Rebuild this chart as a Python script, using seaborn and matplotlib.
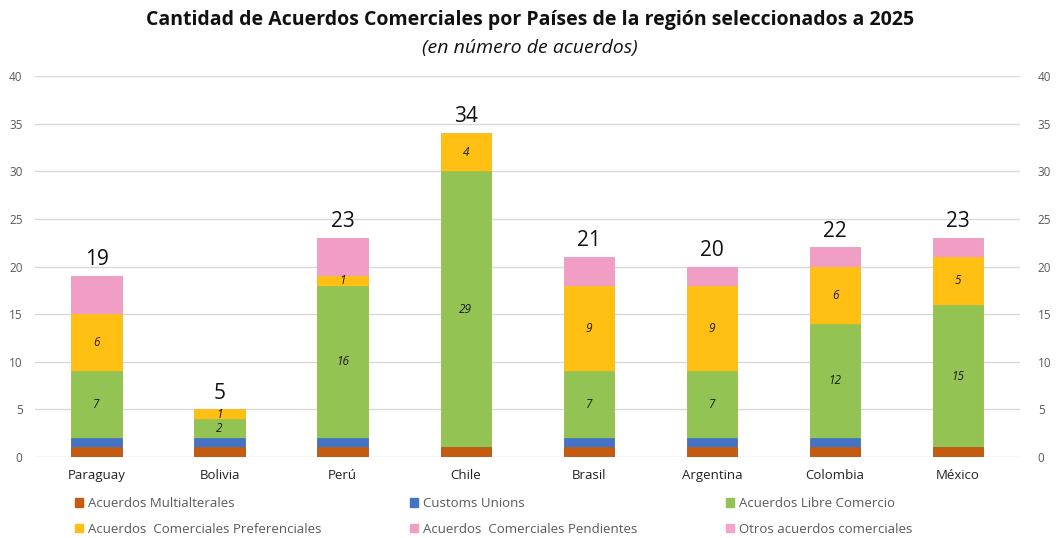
import matplotlib
matplotlib.use("Agg")
import matplotlib.pyplot as plt
from matplotlib.patches import Patch
import seaborn as sns
import pandas as pd

paises = ["Paraguay", "Bolivia", "Perú", "Chile", "Brasil", "Argentina", "Colombia", "México"]
multilaterales = [1, 1, 1, 1, 1, 1, 1, 1]
customs_unions = [1, 1, 1, 0, 1, 1, 1, 0]
libre_comercio = [7, 2, 16, 29, 7, 7, 12, 15]
preferenciales = [6, 1, 1, 4, 9, 9, 6, 5]
pendientes = [4, 0, 4, 0, 3, 2, 2, 2]
otros = [0, 0, 0, 0, 0, 0, 0, 0]

series = ["Acuerdos Multialterales", "Customs Unions", "Acuerdos Libre Comercio",
          "Acuerdos  Comerciales Preferenciales", "Acuerdos  Comerciales Pendientes",
          "Otros acuerdos comerciales"]
colores = ["#C55A11", "#4472C4", "#92C353", "#FFC013", "#F09EC4", "#F4A3CB"]

df = pd.DataFrame({
    "pais": paises,
    series[0]: multilaterales,
    series[1]: customs_unions,
    series[2]: libre_comercio,
    series[3]: preferenciales,
    series[4]: pendientes,
    series[5]: otros,
})
cum = df[series].cumsum(axis=1)
cum["pais"] = paises

sns.set_style("white")
plt.rcParams["font.family"] = ["Open Sans", "DejaVu Sans"]

fig = plt.figure(figsize=(10.6, 5.38), dpi=100)
ax = fig.add_axes([0.033, 0.1506, 0.929, 0.708])

# stacked: draw cumulative totals from top layer down
for s, c in reversed(list(zip(series, colores))):
    sns.barplot(data=cum, x="pais", y=s, color=c, width=0.41, ax=ax,
                saturation=1, edgecolor=c, linewidth=0.5)

# segment labels (libre comercio and preferenciales)
for s in [series[2], series[3]]:
    for i, p in enumerate(paises):
        v = df.loc[i, s]
        if v > 0:
            mid = cum.loc[i, s] - v / 2
            ax.text(i, mid, str(v), ha="center", va="center", fontsize=8.5,
                    style="italic", color="#1a1a1a")

totales = df[series].sum(axis=1)
for i, t in enumerate(totales):
    ax.text(i, t + 0.6, str(t), ha="center", va="bottom", fontsize=15, color="#111111")

ax.set_ylim(0, 40)
ax.set_xlim(-0.5, 7.5)
ax.set_yticks(range(0, 41, 5))
ax.yaxis.grid(True, color="#D9D9D9", linewidth=1)
ax.set_axisbelow(True)
ax.set_xlabel("")
ax.set_ylabel("")
for sp in ax.spines.values():
    sp.set_visible(False)
ax.tick_params(axis="y", labelsize=8.5, labelcolor="#595959", length=0, pad=9)
ax.tick_params(axis="x", labelsize=9.5, labelcolor="#222222", length=0, pad=9)

ax2 = ax.twinx()
ax2.set_ylim(0, 40)
ax2.set_yticks(range(0, 41, 5))
for sp in ax2.spines.values():
    sp.set_visible(False)
ax2.tick_params(axis="y", labelsize=8.5, labelcolor="#595959", length=0, pad=13)

fig.text(0.5, 0.963, "Cantidad de Acuerdos Comerciales por Países de la región seleccionados a 2025",
         ha="center", va="center", fontsize=14, fontweight="bold", color="#111111")
fig.text(0.5, 0.91, "(en número de acuerdos)", ha="center", va="center",
         fontsize=14, style="italic", color="#111111")

handles = [Patch(facecolor=c, edgecolor=c) for c in colores]
order = [0, 3, 1, 4, 2, 5]
ax.legend([handles[k] for k in order], [series[k] for k in order], ncol=3,
          loc="upper left", bbox_to_anchor=(0.035, -0.092), frameon=False,
          fontsize=9.5, labelcolor="#595959", handlelength=0.6, handleheight=0.6,
          handletextpad=0.4, columnspacing=6.7, borderaxespad=0, labelspacing=0.95)

fig.savefig("out.png", dpi=100)
